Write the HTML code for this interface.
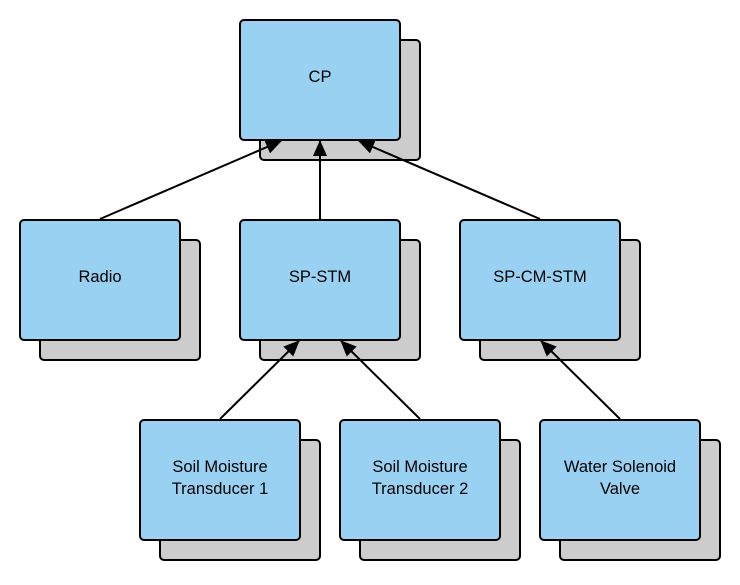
<!DOCTYPE html>
<html><head><style>body{margin:0;background:#fff}</style></head><body>
<svg width="740" height="580" xmlns="http://www.w3.org/2000/svg" font-family="Liberation Sans, sans-serif" font-size="16.5">
<defs><marker id="a" markerWidth="16" markerHeight="14" refX="15" refY="7" orient="auto" markerUnits="userSpaceOnUse"><path d="M0,0 L16,7 L0,14 Z" fill="#000"/></marker></defs>
<g stroke="#000" stroke-width="2">
<g fill="#cccccc">
<rect x="260" y="40" width="160" height="120" rx="4"/>
<rect x="40" y="240" width="160" height="120" rx="4"/>
<rect x="260" y="240" width="160" height="120" rx="4"/>
<rect x="480" y="240" width="160" height="120" rx="4"/>
<rect x="160" y="440" width="160" height="120" rx="4"/>
<rect x="360" y="440" width="160" height="120" rx="4"/>
<rect x="560" y="440" width="160" height="120" rx="4"/>
</g>
<g fill="#99d1f2">
<rect x="240" y="20" width="160" height="120" rx="4"/>
<rect x="20" y="220" width="160" height="120" rx="4"/>
<rect x="240" y="220" width="160" height="120" rx="4"/>
<rect x="460" y="220" width="160" height="120" rx="4"/>
<rect x="140" y="420" width="160" height="120" rx="4"/>
<rect x="340" y="420" width="160" height="120" rx="4"/>
<rect x="540" y="420" width="160" height="120" rx="4"/>
</g>
<g marker-end="url(#a)">
<line x1="100" y1="219" x2="281" y2="141"/>
<line x1="320" y1="219" x2="320" y2="141"/>
<line x1="540" y1="219" x2="359" y2="141"/>
<line x1="220" y1="419" x2="299" y2="341"/>
<line x1="420" y1="419" x2="341" y2="341"/>
<line x1="620" y1="419" x2="541" y2="341"/>
</g>
</g>
<g text-anchor="middle" fill="#000">
<text x="320" y="82">CP</text>
<text x="100" y="282">Radio</text>
<text x="320" y="282">SP-STM</text>
<text x="540" y="282">SP-CM-STM</text>
<text x="220" y="472">Soil Moisture</text><text x="220" y="494">Transducer 1</text>
<text x="420" y="472">Soil Moisture</text><text x="420" y="494">Transducer 2</text>
<text x="620" y="472">Water Solenoid</text><text x="620" y="494">Valve</text>
</g>
</svg>
</body></html>
